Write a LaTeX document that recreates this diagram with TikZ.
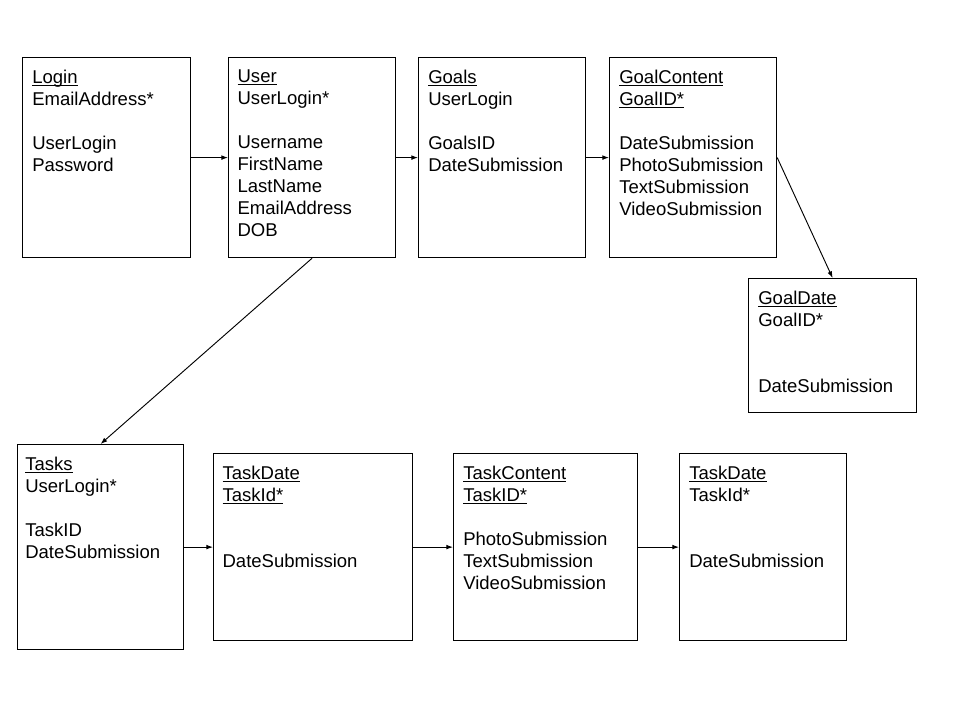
\documentclass[tikz,border=0pt]{standalone}
\usepackage{fontspec}
\setmainfont{Liberation Sans}
\usetikzlibrary{arrows.meta}
% underline at a fixed depth below the baseline
\newcommand{\ulkey}[1]{\setbox0\hbox{#1}\rlap{\rule[-2pt]{\wd0}{0.8pt}}\box0}
\begin{document}
\begin{tikzpicture}[x=0.75pt,y=-0.75pt,
  tablebox/.style={draw=black,line width=0.9pt,fill=white,inner sep=0pt,anchor=north west},
  fields/.style={anchor=north west,inner sep=0pt,align=left,
    font=\fontsize{13.9}{16.5}\selectfont},
  link/.style={line width=0.7pt,-{Latex[length=5pt,width=3.6pt]}}]
\useasboundingbox[fill=white] (0,0) rectangle (960,720);

% top row: login, user and goals tables
\node[tablebox,minimum width=126pt,minimum height=150pt] (login) at (22,57) {};
\node[tablebox,minimum width=125.25pt,minimum height=150pt] (user) at (228,57) {};
\node[tablebox,minimum width=125.25pt,minimum height=150pt] (goals) at (418,57) {};
\node[tablebox,minimum width=125.25pt,minimum height=150pt] (goalcontent) at (609,57) {};
\node[tablebox,minimum width=126pt,minimum height=100.5pt] (goaldate) at (748,278) {};

% bottom row: task tables
\node[tablebox,minimum width=124.5pt,minimum height=153.75pt] (tasks) at (17,444) {};
\node[tablebox,minimum width=149.25pt,minimum height=140.25pt] (taskdate) at (213,453) {};
\node[tablebox,minimum width=138pt,minimum height=140.25pt] (taskcontent) at (453,453) {};
\node[tablebox,minimum width=125.25pt,minimum height=140.25pt] (taskdatetwo) at (679,453) {};

% field lists
\node[fields] (loginT) at ([xshift=7.5pt,yshift=-9.6pt]login.north west)
  {\ulkey{Login}\\EmailAddress*\\~\\UserLogin\\Password};
\node[fields] (userT) at ([xshift=7pt,yshift=-9.6pt]user.north west)
  {\ulkey{User}\\UserLogin*\\~\\Username\\FirstName\\LastName\\EmailAddress\\DOB};
\node[fields] (goalsT) at ([xshift=7.5pt,yshift=-9.6pt]goals.north west)
  {\ulkey{Goals}\\UserLogin\\~\\GoalsID\\DateSubmission};
\node[fields] (goalcontentT) at ([xshift=7.5pt,yshift=-9.6pt]goalcontent.north west)
  {\ulkey{GoalContent}\\\ulkey{GoalID*}\\~\\DateSubmission\\PhotoSubmission\\TextSubmission\\VideoSubmission};
\node[fields] (goaldateT) at ([xshift=7.5pt,yshift=-9.6pt]goaldate.north west)
  {\ulkey{GoalDate}\\GoalID*\\~\\~\\DateSubmission};
\node[fields] (tasksT) at ([xshift=6pt,yshift=-9.6pt]tasks.north west)
  {\ulkey{Tasks}\\UserLogin*\\~\\TaskID\\DateSubmission};
\node[fields] (taskdateT) at ([xshift=7pt,yshift=-9.6pt]taskdate.north west)
  {\ulkey{TaskDate}\\\ulkey{TaskId*}\\~\\~\\DateSubmission};
\node[fields] (taskcontentT) at ([xshift=7.5pt,yshift=-9.6pt]taskcontent.north west)
  {\ulkey{TaskContent}\\\ulkey{TaskID*}\\~\\PhotoSubmission\\TextSubmission\\VideoSubmission};
\node[fields] (taskdatetwoT) at ([xshift=7.5pt,yshift=-9.6pt]taskdatetwo.north west)
  {\ulkey{TaskDate}\\TaskId*\\~\\~\\DateSubmission};

% relationships
\draw[link] (login.east) -- (user.west);
\draw[link] (user.east) -- (goals.west);
\draw[link] (goals.east) -- (goalcontent.west);
\draw[link] (goalcontent.east) -- (goaldate.north);
\draw[link] (user.south) -- (tasks.north);
\draw[link] (tasks.east) -- (taskdate.west);
\draw[link] (taskdate.east) -- (taskcontent.west);
\draw[link] (taskcontent.east) -- (taskdatetwo.west);
\end{tikzpicture}
\end{document}
